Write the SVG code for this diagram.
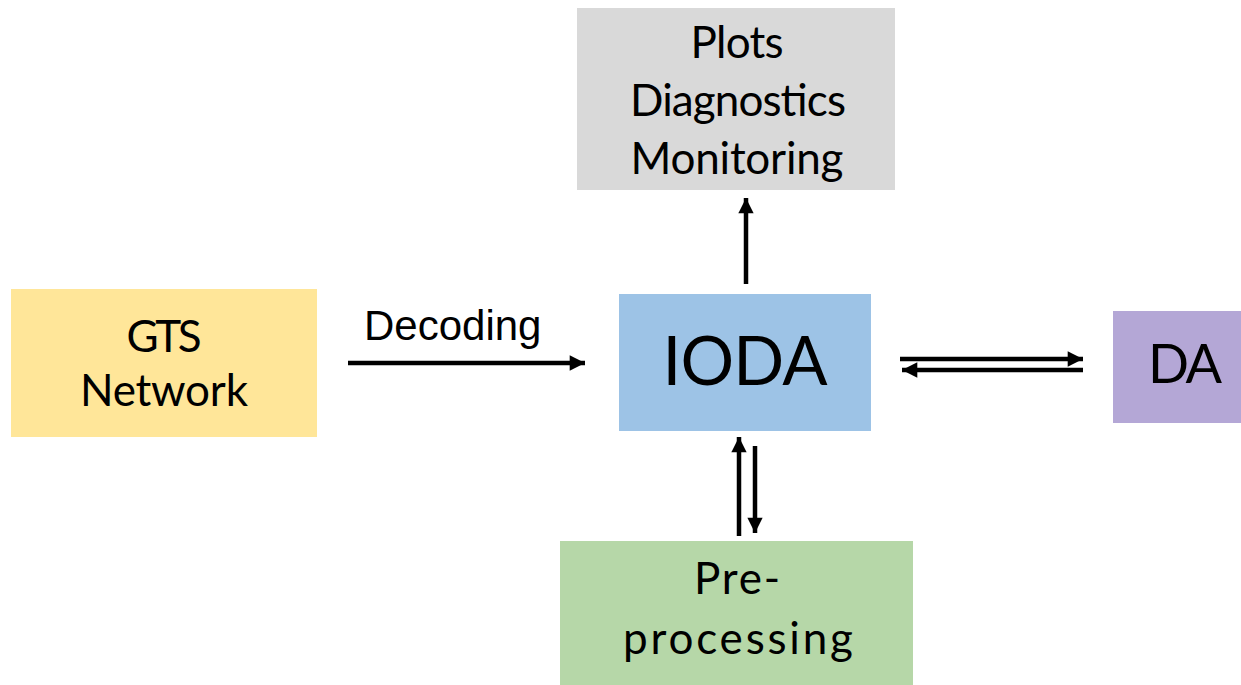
<svg xmlns="http://www.w3.org/2000/svg" width="1241" height="685" viewBox="0 0 1241 685">
<style>
.t{font-family:Lato,"Open Sans","Noto Sans",sans-serif;fill:#000;text-anchor:middle;font-size:44px}
.c{stroke:#000;stroke-width:4.5;fill:none}
</style>
<defs>
<marker id="ah" viewBox="0 0 10 10" refX="10" refY="5" markerWidth="3.6" markerHeight="3.4" orient="auto" markerUnits="strokeWidth">
<path d="M0,0 L10,5 L0,10 Z" fill="#000"/>
</marker>
</defs>
<rect width="1241" height="685" fill="#fff"/>
<g id="plots">
<rect x="577" y="8" width="318" height="182" fill="#d9d9d9"/>
<text class="t" x="737" y="58" textLength="93">Plots</text>
<text class="t" x="738" y="116" textLength="216">Diagnostics</text>
<text class="t" x="737" y="174" textLength="213">Monitoring</text>
</g>
<g id="gts">
<rect x="11" y="289" width="306" height="148" fill="#ffe699"/>
<text class="t" x="164" y="352" textLength="75">GTS</text>
<text class="t" x="164" y="406" textLength="168">Network</text>
</g>
<g id="ioda">
<rect x="619" y="294" width="252" height="137" fill="#9dc3e6"/>
<text class="t" x="745" y="385" style="font-size:67px" textLength="165">IODA</text>
</g>
<g id="da">
<rect x="1113" y="311" width="128" height="112" fill="#b4a7d6"/>
<text class="t" x="1185" y="383" style="font-size:54px" textLength="74">DA</text>
</g>
<g id="pre">
<rect x="560" y="541" width="353" height="144" fill="#b6d7a8"/>
<text class="t" x="737" y="594" textLength="86">Pre-</text>
<text class="t" x="738" y="654" textLength="230">processing</text>
</g>
<g id="connectors">
<line class="c" x1="746" y1="284" x2="746" y2="198" marker-end="url(#ah)"/>
<line class="c" x1="348" y1="363" x2="585" y2="363" marker-end="url(#ah)"/>
<line class="c" x1="900" y1="359" x2="1083" y2="359" marker-end="url(#ah)"/>
<line class="c" x1="1083" y1="370" x2="902" y2="370" marker-end="url(#ah)"/>
<line class="c" x1="739" y1="536" x2="739" y2="437" marker-end="url(#ah)"/>
<line class="c" x1="755" y1="446" x2="755" y2="533" marker-end="url(#ah)"/>
<text x="364" y="340" font-family="Liberation Sans,Arial,sans-serif" font-size="42">Decoding</text>
</g>
</svg>
